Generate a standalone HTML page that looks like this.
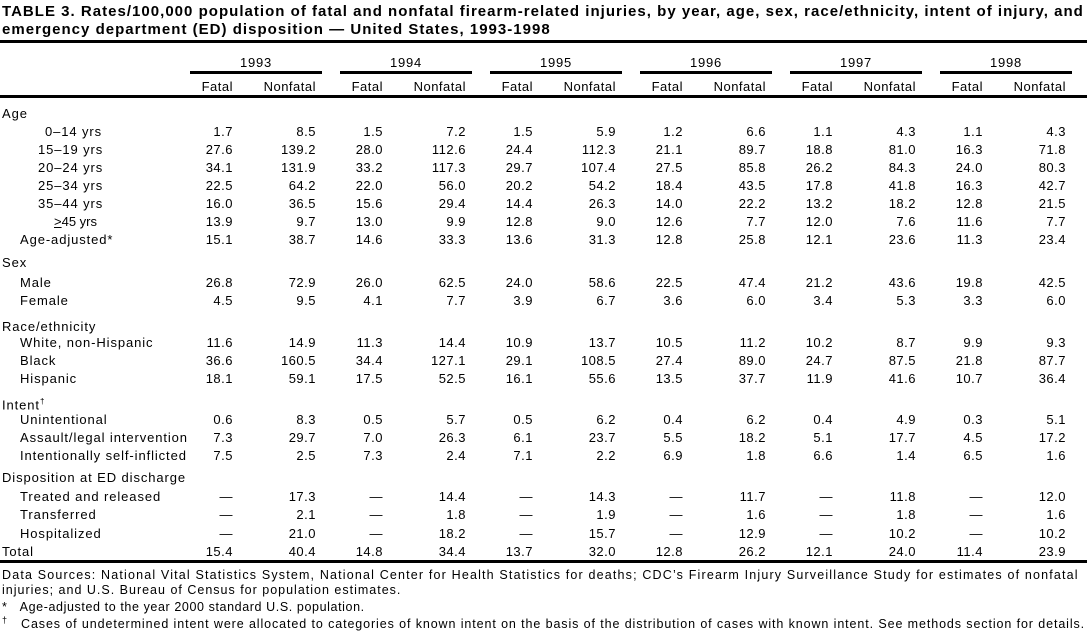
<!DOCTYPE html>
<html><head><meta charset="utf-8"><style>
body{margin:0;width:1087px;height:635px;background:#fff;position:relative;overflow:hidden;font-family:"Liberation Sans",Arial,sans-serif;color:#000}
.a{position:absolute;white-space:nowrap}
.t{font-size:15px;font-weight:bold;left:2px;letter-spacing:1.02px}
.r{position:absolute;left:0;width:1087px;height:18px;line-height:18px;font-size:13px}
.r span{position:absolute;width:80px;text-align:right;letter-spacing:0.5px}
.r b{font-weight:normal;position:absolute;letter-spacing:0.9px}
.f0{left:153px}.n0{left:236px}
.f1{left:303px}.n1{left:386px}
.f2{left:453px}.n2{left:536px}
.f3{left:603px}.n3{left:686px}
.f4{left:753px}.n4{left:836px}
.f5{left:903px}.n5{left:986px}
.hr{position:absolute;background:#000}
.y{position:absolute;width:132px;text-align:center;font-size:13px;top:55px;letter-spacing:0.8px}
.ft{font-size:12.5px;left:2px}
</style></head><body>
<div class="a t" style="top:3px">TABLE 3. Rates/100,000 population of fatal and nonfatal firearm-related injuries, by year, age, sex, race/ethnicity, intent of injury, and</div>
<div class="a t" style="top:21px">emergency department (ED) disposition — United States, 1993-1998</div>
<div class="hr" style="left:0;top:40px;width:1087px;height:3px"></div>
<div class="y" style="left:190px">1993</div><div class="y" style="left:340px">1994</div><div class="y" style="left:490px">1995</div><div class="y" style="left:640px">1996</div><div class="y" style="left:790px">1997</div><div class="y" style="left:940px">1998</div>
<div class="hr" style="left:190px;top:71px;width:132px;height:3px"></div>
<div class="hr" style="left:340px;top:71px;width:132px;height:3px"></div>
<div class="hr" style="left:490px;top:71px;width:132px;height:3px"></div>
<div class="hr" style="left:640px;top:71px;width:132px;height:3px"></div>
<div class="hr" style="left:790px;top:71px;width:132px;height:3px"></div>
<div class="hr" style="left:940px;top:71px;width:132px;height:3px"></div>
<div class="r" style="top:78px"><span class="f0">Fatal</span><span class="n0">Nonfatal</span><span class="f1">Fatal</span><span class="n1">Nonfatal</span><span class="f2">Fatal</span><span class="n2">Nonfatal</span><span class="f3">Fatal</span><span class="n3">Nonfatal</span><span class="f4">Fatal</span><span class="n4">Nonfatal</span><span class="f5">Fatal</span><span class="n5">Nonfatal</span></div>
<div class="hr" style="left:0;top:95px;width:1087px;height:3px"></div>

<div class="r" style="top:105px"><b style="left:2px">Age</b></div>
<div class="r" style="top:123px"><b style="left:45px">0–14 yrs</b><span class="f0">1.7</span><span class="n0">8.5</span><span class="f1">1.5</span><span class="n1">7.2</span><span class="f2">1.5</span><span class="n2">5.9</span><span class="f3">1.2</span><span class="n3">6.6</span><span class="f4">1.1</span><span class="n4">4.3</span><span class="f5">1.1</span><span class="n5">4.3</span></div>
<div class="r" style="top:141px"><b style="left:38px">15–19 yrs</b><span class="f0">27.6</span><span class="n0">139.2</span><span class="f1">28.0</span><span class="n1">112.6</span><span class="f2">24.4</span><span class="n2">112.3</span><span class="f3">21.1</span><span class="n3">89.7</span><span class="f4">18.8</span><span class="n4">81.0</span><span class="f5">16.3</span><span class="n5">71.8</span></div>
<div class="r" style="top:159px"><b style="left:38px">20–24 yrs</b><span class="f0">34.1</span><span class="n0">131.9</span><span class="f1">33.2</span><span class="n1">117.3</span><span class="f2">29.7</span><span class="n2">107.4</span><span class="f3">27.5</span><span class="n3">85.8</span><span class="f4">26.2</span><span class="n4">84.3</span><span class="f5">24.0</span><span class="n5">80.3</span></div>
<div class="r" style="top:177px"><b style="left:38px">25–34 yrs</b><span class="f0">22.5</span><span class="n0">64.2</span><span class="f1">22.0</span><span class="n1">56.0</span><span class="f2">20.2</span><span class="n2">54.2</span><span class="f3">18.4</span><span class="n3">43.5</span><span class="f4">17.8</span><span class="n4">41.8</span><span class="f5">16.3</span><span class="n5">42.7</span></div>
<div class="r" style="top:195px"><b style="left:38px">35–44 yrs</b><span class="f0">16.0</span><span class="n0">36.5</span><span class="f1">15.6</span><span class="n1">29.4</span><span class="f2">14.4</span><span class="n2">26.3</span><span class="f3">14.0</span><span class="n3">22.2</span><span class="f4">13.2</span><span class="n4">18.2</span><span class="f5">12.8</span><span class="n5">21.5</span></div>
<div class="r" style="top:213px"><b style="left:54px;letter-spacing:0"><u>&gt;</u>45 yrs</b><span class="f0">13.9</span><span class="n0">9.7</span><span class="f1">13.0</span><span class="n1">9.9</span><span class="f2">12.8</span><span class="n2">9.0</span><span class="f3">12.6</span><span class="n3">7.7</span><span class="f4">12.0</span><span class="n4">7.6</span><span class="f5">11.6</span><span class="n5">7.7</span></div>
<div class="r" style="top:231px"><b style="left:20px">Age-adjusted*</b><span class="f0">15.1</span><span class="n0">38.7</span><span class="f1">14.6</span><span class="n1">33.3</span><span class="f2">13.6</span><span class="n2">31.3</span><span class="f3">12.8</span><span class="n3">25.8</span><span class="f4">12.1</span><span class="n4">23.6</span><span class="f5">11.3</span><span class="n5">23.4</span></div>
<div class="r" style="top:254px"><b style="left:2px">Sex</b></div>
<div class="r" style="top:274px"><b style="left:20px">Male</b><span class="f0">26.8</span><span class="n0">72.9</span><span class="f1">26.0</span><span class="n1">62.5</span><span class="f2">24.0</span><span class="n2">58.6</span><span class="f3">22.5</span><span class="n3">47.4</span><span class="f4">21.2</span><span class="n4">43.6</span><span class="f5">19.8</span><span class="n5">42.5</span></div>
<div class="r" style="top:292px"><b style="left:20px">Female</b><span class="f0">4.5</span><span class="n0">9.5</span><span class="f1">4.1</span><span class="n1">7.7</span><span class="f2">3.9</span><span class="n2">6.7</span><span class="f3">3.6</span><span class="n3">6.0</span><span class="f4">3.4</span><span class="n4">5.3</span><span class="f5">3.3</span><span class="n5">6.0</span></div>
<div class="r" style="top:318px"><b style="left:2px">Race/ethnicity</b></div>
<div class="r" style="top:334px"><b style="left:20px">White, non-Hispanic</b><span class="f0">11.6</span><span class="n0">14.9</span><span class="f1">11.3</span><span class="n1">14.4</span><span class="f2">10.9</span><span class="n2">13.7</span><span class="f3">10.5</span><span class="n3">11.2</span><span class="f4">10.2</span><span class="n4">8.7</span><span class="f5">9.9</span><span class="n5">9.3</span></div>
<div class="r" style="top:352px"><b style="left:20px">Black</b><span class="f0">36.6</span><span class="n0">160.5</span><span class="f1">34.4</span><span class="n1">127.1</span><span class="f2">29.1</span><span class="n2">108.5</span><span class="f3">27.4</span><span class="n3">89.0</span><span class="f4">24.7</span><span class="n4">87.5</span><span class="f5">21.8</span><span class="n5">87.7</span></div>
<div class="r" style="top:370px"><b style="left:20px">Hispanic</b><span class="f0">18.1</span><span class="n0">59.1</span><span class="f1">17.5</span><span class="n1">52.5</span><span class="f2">16.1</span><span class="n2">55.6</span><span class="f3">13.5</span><span class="n3">37.7</span><span class="f4">11.9</span><span class="n4">41.6</span><span class="f5">10.7</span><span class="n5">36.4</span></div>
<div class="r" style="top:393px"><b style="left:2px">Intent<sup style="font-size:8px">†</sup></b></div>
<div class="r" style="top:411px"><b style="left:20px">Unintentional</b><span class="f0">0.6</span><span class="n0">8.3</span><span class="f1">0.5</span><span class="n1">5.7</span><span class="f2">0.5</span><span class="n2">6.2</span><span class="f3">0.4</span><span class="n3">6.2</span><span class="f4">0.4</span><span class="n4">4.9</span><span class="f5">0.3</span><span class="n5">5.1</span></div>
<div class="r" style="top:429px"><b style="left:20px">Assault/legal intervention</b><span class="f0">7.3</span><span class="n0">29.7</span><span class="f1">7.0</span><span class="n1">26.3</span><span class="f2">6.1</span><span class="n2">23.7</span><span class="f3">5.5</span><span class="n3">18.2</span><span class="f4">5.1</span><span class="n4">17.7</span><span class="f5">4.5</span><span class="n5">17.2</span></div>
<div class="r" style="top:447px"><b style="left:20px">Intentionally self-inflicted</b><span class="f0">7.5</span><span class="n0">2.5</span><span class="f1">7.3</span><span class="n1">2.4</span><span class="f2">7.1</span><span class="n2">2.2</span><span class="f3">6.9</span><span class="n3">1.8</span><span class="f4">6.6</span><span class="n4">1.4</span><span class="f5">6.5</span><span class="n5">1.6</span></div>
<div class="r" style="top:469px"><b style="left:2px">Disposition at ED discharge</b></div>
<div class="r" style="top:488px"><b style="left:20px">Treated and released</b><span class="f0">—</span><span class="n0">17.3</span><span class="f1">—</span><span class="n1">14.4</span><span class="f2">—</span><span class="n2">14.3</span><span class="f3">—</span><span class="n3">11.7</span><span class="f4">—</span><span class="n4">11.8</span><span class="f5">—</span><span class="n5">12.0</span></div>
<div class="r" style="top:506px"><b style="left:20px">Transferred</b><span class="f0">—</span><span class="n0">2.1</span><span class="f1">—</span><span class="n1">1.8</span><span class="f2">—</span><span class="n2">1.9</span><span class="f3">—</span><span class="n3">1.6</span><span class="f4">—</span><span class="n4">1.8</span><span class="f5">—</span><span class="n5">1.6</span></div>
<div class="r" style="top:525px"><b style="left:20px">Hospitalized</b><span class="f0">—</span><span class="n0">21.0</span><span class="f1">—</span><span class="n1">18.2</span><span class="f2">—</span><span class="n2">15.7</span><span class="f3">—</span><span class="n3">12.9</span><span class="f4">—</span><span class="n4">10.2</span><span class="f5">—</span><span class="n5">10.2</span></div>
<div class="r" style="top:543px"><b style="left:2px">Total</b><span class="f0">15.4</span><span class="n0">40.4</span><span class="f1">14.8</span><span class="n1">34.4</span><span class="f2">13.7</span><span class="n2">32.0</span><span class="f3">12.8</span><span class="n3">26.2</span><span class="f4">12.1</span><span class="n4">24.0</span><span class="f5">11.4</span><span class="n5">23.9</span></div>
<div class="hr" style="left:0;top:560px;width:1087px;height:3px"></div>

<div class="a ft" style="top:568px;letter-spacing:1.17px">Data Sources: National Vital Statistics System, National Center for Health Statistics for deaths; CDC’s Firearm Injury Surveillance Study for estimates of nonfatal</div>
<div class="a ft" style="top:583px;letter-spacing:1px">injuries; and U.S. Bureau of Census for population estimates.</div>
<div class="a ft" style="top:600px;letter-spacing:0.6px">*&nbsp;&nbsp;&nbsp;Age-adjusted to the year 2000 standard U.S. population.</div>
<div class="a ft" style="top:615px;letter-spacing:0.9px"><sup style="font-size:9px">†</sup>&nbsp;&nbsp;&nbsp;Cases of undetermined intent were allocated to categories of known intent on the basis of the distribution of cases with known intent. See methods section for details.</div>
</body></html>
